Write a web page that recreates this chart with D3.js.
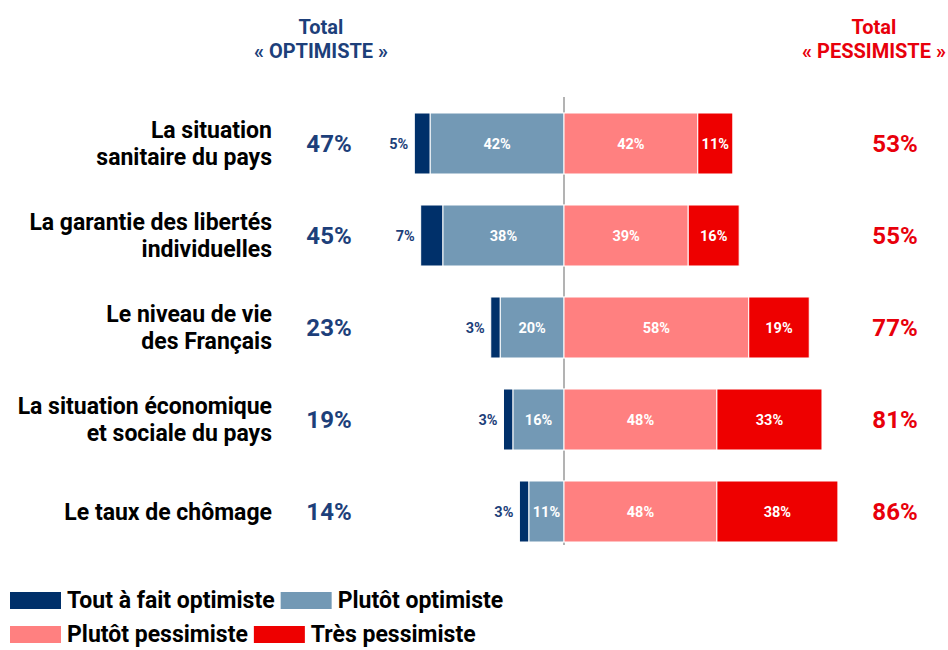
<!DOCTYPE html>
<html><head><meta charset="utf-8">
<script src="https://cdn.jsdelivr.net/npm/d3@7"></script>
<style>html,body{margin:0;padding:0;background:#fff;}svg{display:block;font-family:Roboto,"Liberation Sans",sans-serif;font-weight:700;}</style>
</head><body><svg id="c" width="948" height="650"></svg>
<script>
const categories = [["La situation","sanitaire du pays"],["La garantie des libertés","individuelles"],["Le niveau de vie","des Français"],["La situation économique","et sociale du pays"],["Le taux de chômage"]];
const toutAFaitOptimiste = [5,7,3,3,3];
const plutotOptimiste = [42,38,20,16,11];
const plutotPessimiste = [42,39,58,48,48];
const tresPessimiste = [11,16,19,33,38];
const totalOptimiste = [47,45,23,19,14];
const totalPessimiste = [53,55,77,81,86];
const seriesNames = ["Tout à fait optimiste","Plutôt optimiste","Plutôt pessimiste","Très pessimiste"];
const colors = ["#00306a","#7399b5","#ff8080","#ee0000"];

const svg = d3.select("#c");
const ids = d3.range(categories.length);
const x = d3.scaleLinear().domain([-50,100]).range([564-50*3.185, 564+100*3.185]);
const y = d3.scaleBand().domain(ids).range([82,573]).paddingInner(0.337).paddingOuter(0.337);
const bw = y.bandwidth();

const rows = ids.map(i => {
  const segs = [];
  segs.push({s:0,x0:-(toutAFaitOptimiste[i]+plutotOptimiste[i]),x1:-plutotOptimiste[i],v:toutAFaitOptimiste[i]});
  segs.push({s:1,x0:-plutotOptimiste[i],x1:0,v:plutotOptimiste[i]});
  segs.push({s:2,x0:0,x1:plutotPessimiste[i],v:plutotPessimiste[i]});
  segs.push({s:3,x0:plutotPessimiste[i],x1:plutotPessimiste[i]+tresPessimiste[i],v:tresPessimiste[i]});
  return {i,segs};
});

// center line
svg.append("line").attr("x1",x(0)).attr("x2",x(0)).attr("y1",97).attr("y2",545)
  .attr("stroke","#808080").attr("stroke-width",1.2);

const g = svg.selectAll("g.row").data(rows).join("g").attr("class","row")
  .attr("transform",d=>`translate(0,${y(d.i)})`);
g.selectAll("rect").data(d=>d.segs).join("rect")
  .attr("x",d=>x(d.x0)).attr("width",d=>x(d.x1)-x(d.x0))
  .attr("y",0).attr("height",bw).attr("fill",d=>colors[d.s])
  .attr("stroke","#fff").attr("stroke-width",1);

g.selectAll("text.v").data(d=>d.segs).join("text").attr("class","v")
  .attr("x",d=>d.s===0 ? x(d.x0)-6 : (x(d.x0)+x(d.x1))/2)
  .attr("y",bw/2).attr("dy","0.36em")
  .attr("text-anchor",d=>d.s===0?"end":"middle")
  .attr("font-size",14.5).attr("fill",d=>d.s===0?"#1d3f7a":"#fff")
  .text(d=>d.v+"%");

// category labels
const lab = svg.selectAll("text.cat").data(ids).join("text").attr("class","cat")
  .attr("text-anchor","end").attr("font-size",23).attr("fill","#000");
lab.each(function(i){
  const lines = categories[i];
  const cy = y(i)+bw/2;
  const t = d3.select(this);
  lines.forEach((l,k)=>{
    t.append("tspan").attr("x",272)
     .attr("y",cy + (k-(lines.length-1)/2)*27).attr("dy","0.36em").text(l);
  });
});

// totals
svg.selectAll("text.to").data(ids).join("text").attr("class","to")
  .attr("x",329).attr("y",i=>y(i)+bw/2).attr("dy","0.36em").attr("text-anchor","middle")
  .attr("font-size",24).attr("fill","#1d3f7a").text(i=>totalOptimiste[i]+"%");
svg.selectAll("text.tp").data(ids).join("text").attr("class","tp")
  .attr("x",895).attr("y",i=>y(i)+bw/2).attr("dy","0.36em").attr("text-anchor","middle")
  .attr("font-size",24).attr("fill","#e8000b").text(i=>totalPessimiste[i]+"%");

// headers
[[321,"#1d3f7a","« OPTIMISTE »"],[874,"#e8000b","« PESSIMISTE »"]].forEach(([cx,col,t])=>{
  const h = svg.append("text").attr("text-anchor","middle").attr("font-size",20).attr("fill",col);
  h.append("tspan").attr("x",cx).attr("y",34).text("Total");
  h.append("tspan").attr("x",cx).attr("y",58).text(t);
});

// legend
const legRows = [[0,1],[2,3]];
legRows.forEach((r,ri)=>{
  let cx = 10;
  const ly = 600 + ri*34;
  r.forEach(s=>{
    svg.append("rect").attr("x",cx).attr("y",ly-8).attr("width",51).attr("height",17).attr("fill",colors[s]);
    const t = svg.append("text").attr("x",cx+57).attr("y",ly).attr("dy","0.36em")
      .attr("font-size",23).attr("fill","#000").text(seriesNames[s]);
    cx += 57 + t.node().getComputedTextLength() + 6;
  });
});
</script></body></html>
